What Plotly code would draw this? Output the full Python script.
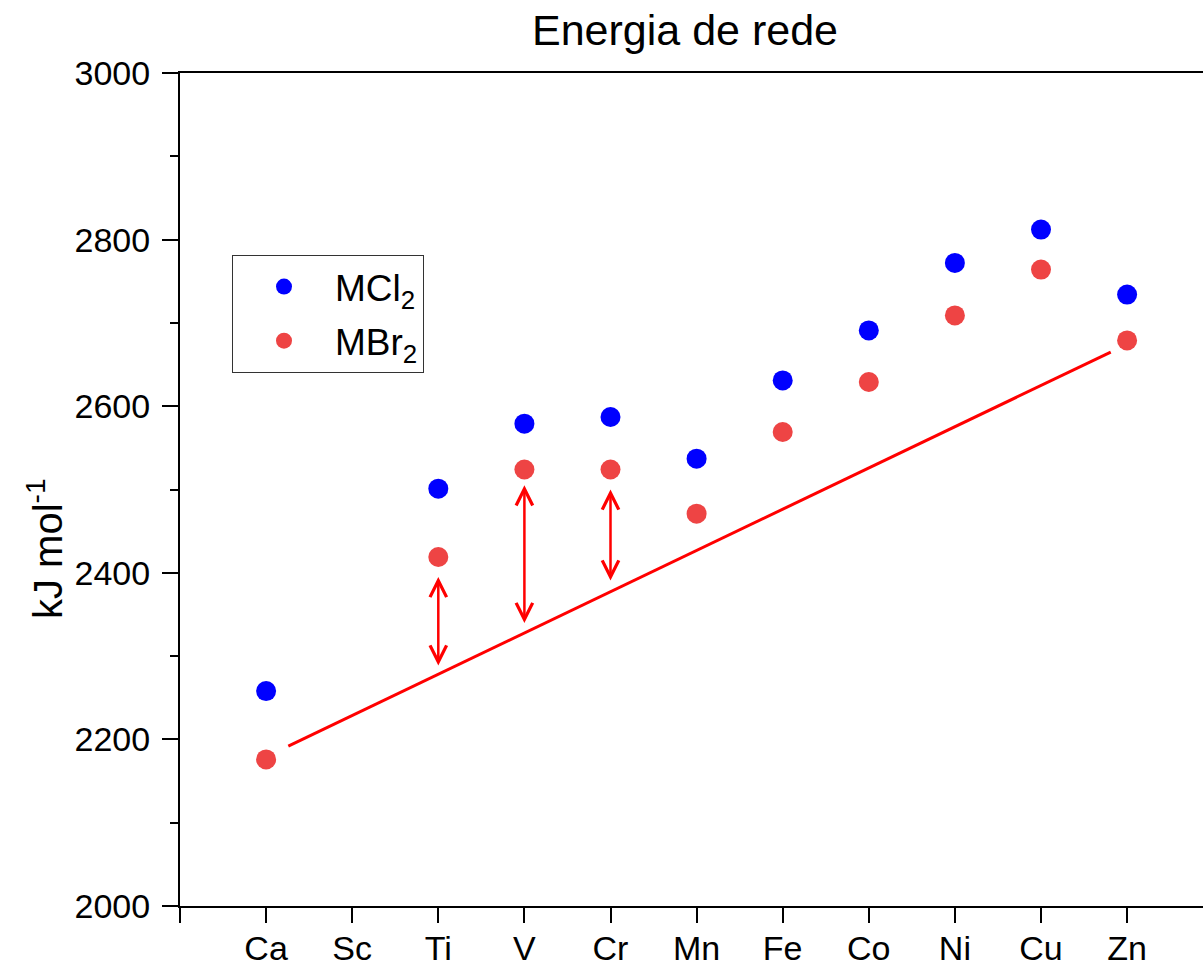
import plotly.graph_objects as go

# ---- data ----
elements = ["Ca", "Sc", "Ti", "V", "Cr", "Mn", "Fe", "Co", "Ni", "Cu", "Zn"]
mcl2 = [2258, None, 2501, 2579, 2587, 2537, 2631, 2691, 2772, 2812, 2734]
mbr2 = [2176, None, 2419, 2524, 2524, 2471, 2569, 2629, 2709, 2764, 2679]

# trend line endpoints (x in element-index units, y in kJ/mol)
trend_x = [1.258, 10.81]
trend_y = [2192, 2665]

# double arrows
arrow_elements = ["Ti", "V", "Cr"]
arrow_top = [2395, 2505, 2500]
arrow_bottom = [2287, 2338, 2389]

y_ticks = [2000, 2200, 2400, 2600, 2800, 3000]

# ---- figure ----
xpos = [i + 1 for i in range(len(elements))]
FONT = "Arial, Liberation Sans, sans-serif"

fig = go.Figure()
fig.add_trace(go.Scatter(
    x=xpos, y=mcl2, mode="markers", name="MCl<sub>2</sub>",
    marker=dict(color="#0000FF", size=20), legendgroup="a"))
fig.add_trace(go.Scatter(
    x=xpos, y=mbr2, mode="markers", name="MBr<sub>2</sub>",
    marker=dict(color="#EE4444", size=20), legendgroup="b"))
fig.add_trace(go.Scatter(
    x=trend_x, y=trend_y, mode="lines", showlegend=False,
    line=dict(color="#FF0000", width=3)))

for el, yt, yb in zip(arrow_elements, arrow_top, arrow_bottom):
    xi = elements.index(el) + 1
    fig.add_annotation(
        x=xi, y=yt, ax=xi, ay=yb, xref="x", yref="y", axref="x", ayref="y",
        showarrow=True, arrowside="end+start", arrowhead=5, startarrowhead=5,
        arrowsize=1.3, startarrowsize=1.3, arrowwidth=2.5, arrowcolor="#FF0000",
        text="")

fig.add_annotation(
    text="kJ mol<sup>-1</sup>", xref="paper", yref="paper",
    x=-(180 - 45) / 1023, y=(906 - 549) / 833, textangle=-90,
    showarrow=False, font=dict(size=40, color="black", family=FONT),
    xanchor="center", yanchor="middle")

fig.update_layout(
    width=1203, height=966,
    margin=dict(l=180, r=0, t=73, b=60),
    paper_bgcolor="white", plot_bgcolor="white",
    font=dict(family=FONT, color="black", size=34),
    title=dict(text="Energia de rede", x=685 / 1203, y=1 - 30 / 966,
               xanchor="center", yanchor="middle",
               font=dict(size=43, family=FONT, color="black")),
    legend=dict(x=(232 - 180) / 1023, y=(906 - 255) / 833,
                xanchor="left", yanchor="top",
                bordercolor="#333333", borderwidth=1,
                bgcolor="white", font=dict(size=37), tracegroupgap=3,
                itemwidth=92),
    showlegend=True,
)

fig.update_xaxes(
    range=[0, (1203 - 180) / 86.1], tickmode="array",
    tickvals=[0] + xpos, ticktext=[""] + elements,
    ticks="outside", ticklen=15, tickwidth=2, tickcolor="black",
    showline=True, linewidth=2, linecolor="black", mirror=True,
    showgrid=False, zeroline=False, tickfont=dict(size=34),
    ticklabelstandoff=-4, automargin=False)
fig.update_yaxes(
    range=[2000, 3000], tickmode="array", tickvals=y_ticks,
    ticks="outside", ticklen=16, tickwidth=2, tickcolor="black",
    minor=dict(dtick=100, ticks="outside", ticklen=8, tickwidth=2,
               tickcolor="black", showgrid=False),
    showline=True, linewidth=2, linecolor="black", mirror=False,
    showgrid=False, zeroline=False, tickfont=dict(size=34),
    ticklabelstandoff=5, automargin=False)

fig.write_html(
    "out.html",
    config={"displayModeBar": False},
    post_script="document.body.style.margin='0';document.body.style.overflow='hidden';")
